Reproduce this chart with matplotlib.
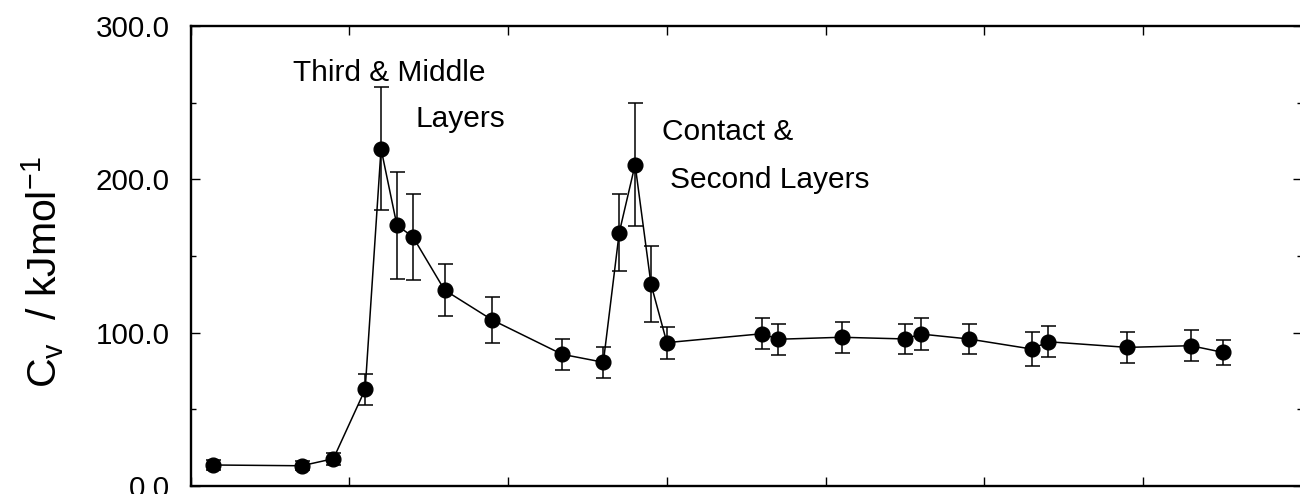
import matplotlib
matplotlib.use("Agg")
import matplotlib.pyplot as plt
from matplotlib.ticker import MultipleLocator

plt.rcParams['font.family'] = ['Liberation Sans', 'DejaVu Sans']
plt.rcParams['mathtext.fontset'] = 'custom'
plt.rcParams['mathtext.rm'] = 'Liberation Sans'
plt.rcParams['mathtext.it'] = 'Liberation Sans:italic'

# heat capacity per point, with its uncertainty
x_vals = [7.2, 35, 45, 55, 60, 65, 70, 80, 95, 117, 130, 135, 140, 145, 150,
          180, 185, 205, 225, 230, 245, 265, 270, 295, 315, 325]
cv_vals = [13.7, 13.2, 17.8, 63.0, 220.0, 170.0, 162.6, 127.8, 108.3, 85.9,
           80.7, 165.2, 209.6, 131.7, 93.5, 99.3, 95.7, 97.0, 95.9, 99.1,
           95.9, 89.3, 94.1, 90.4, 91.5, 87.2]
cv_err = [3, 3, 4, 10, 40, 35, 28, 17, 15, 10, 10, 25, 40, 25, 10.5,
          10, 10, 10, 10, 10.5, 10, 11, 10, 10, 10, 8]
y_ticks = [0, 100, 200, 300]
y_tick_labels = ['0.0', '100.0', '200.0', '300.0']

W, H = 1300, 494
fig = plt.figure(figsize=(W / 100, H / 100), dpi=100)
ax = fig.add_axes([190.5 / W, 8 / H, 1111.5 / W, 460 / H])

ax.errorbar(x_vals, cv_vals, yerr=cv_err, fmt='o-', color='black',
            markersize=10.6, linewidth=1.1, elinewidth=1.1,
            capsize=5.4, capthick=1.1)

ax.set_xlim(0, 350)
ax.set_ylim(0, 300)
ax.xaxis.set_major_locator(MultipleLocator(50))
ax.set_yticks(y_ticks)
ax.set_yticklabels(y_tick_labels)
ax.yaxis.set_minor_locator(MultipleLocator(50))

ax.tick_params(axis='both', which='major', direction='in', length=6.5,
               width=1.0, top=True, right=True, labelsize=21.3)
ax.tick_params(axis='y', which='minor', direction='in', length=3.8,
               width=1.0, right=True, left=True)
ax.tick_params(axis='y', which='major', pad=15)
ax.tick_params(axis='x', labelbottom=False)

for s in ax.spines.values():
    s.set_linewidth(1.7)

ax.set_ylabel(r'C$_{\mathrm{v}}$  / kJmol$^{\mathrm{-1}}$', fontsize=29.5)
ax.yaxis.set_label_coords(-0.112, 0.465)

ax.text(32.3, 264.1, 'Third & Middle', fontsize=21.5, ha='left', va='baseline')
ax.text(70.7, 234.1, 'Layers', fontsize=21.5, ha='left', va='baseline')
ax.text(148.4, 225.7, 'Contact &', fontsize=21.5, ha='left', va='baseline')
ax.text(151.0, 194.4, 'Second Layers', fontsize=21.5, ha='left', va='baseline')

fig.savefig('out.png', dpi=100)
